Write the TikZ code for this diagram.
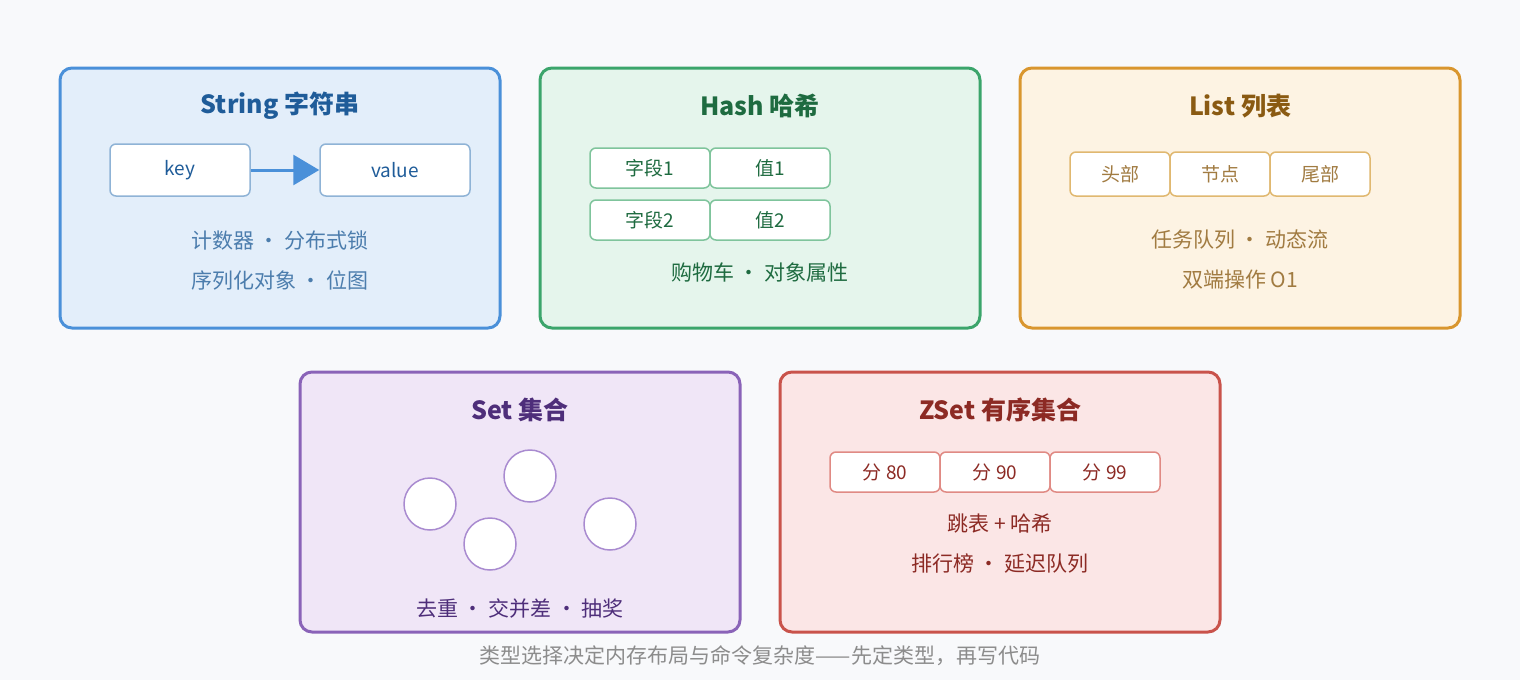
\documentclass[tikz,border=0pt]{standalone}
\usepackage{fontspec}
\setmainfont{Noto Sans CJK SC}
\usetikzlibrary{arrows.meta}
\definecolor{bgc}{HTML}{F8F9FB}
\definecolor{strB}{HTML}{4A90D9}\definecolor{strF}{HTML}{E3EEFA}\definecolor{strT}{HTML}{1F5C99}\definecolor{strS}{HTML}{8FB3D6}
\definecolor{hshB}{HTML}{3BA56B}\definecolor{hshF}{HTML}{E5F5EC}\definecolor{hshT}{HTML}{1E6B40}\definecolor{hshS}{HTML}{7FC49C}
\definecolor{lstB}{HTML}{D9962E}\definecolor{lstF}{HTML}{FDF3E3}\definecolor{lstT}{HTML}{8A5A12}\definecolor{lstS}{HTML}{E0B870}
\definecolor{setB}{HTML}{8A63B8}\definecolor{setF}{HTML}{F0E6F7}\definecolor{setT}{HTML}{4E2E7A}\definecolor{setS}{HTML}{A98BD0}
\definecolor{zsB}{HTML}{C9534B}\definecolor{zsF}{HTML}{FBE6E6}\definecolor{zsT}{HTML}{8C2A24}\definecolor{zsS}{HTML}{E08A84}
\tikzset{
  panel/.style={rounded corners=12pt, line width=3pt},
  title/.style={font=\fontsize{25}{30}\selectfont\bfseries},
  note/.style={font=\fontsize{21}{26}\selectfont},
  cell/.style={draw, fill=white, rounded corners=6pt, line width=1.5pt, font=\fontsize{19}{22}\selectfont, inner sep=0pt},
  dot/.style={circle, draw=setS, fill=white, line width=1.5pt, minimum size=52pt, inner sep=0pt}
}
\begin{document}
\begin{tikzpicture}[x=1pt,y=-1pt]
\fill[bgc] (0,0) rectangle (1520,680);
\useasboundingbox (0,0) rectangle (1520,680);

% String
\draw[panel, draw=strB, fill=strF] (60,68) rectangle (500,328);
\node[title, text=strT] (strtitle) at (280,106) {String 字符串};
\node[cell, draw=strS, text=strT, minimum width=140pt, minimum height=52pt] (key) at (180,170) {key};
\node[cell, draw=strS, text=strT, minimum width=150pt, minimum height=52pt] (value) at (395,170) {value};
\draw[strB, line width=3pt, -{Triangle[length=26pt,width=30pt]}] (key) -- (value);
\node[note, text=strT!80] (struse) at (280,240) {计数器 · 分布式锁};
\node[note, text=strT!80] (struse2) at (280,280) {序列化对象 · 位图};

% Hash
\draw[panel, draw=hshB, fill=hshF] (540,68) rectangle (980,328);
\node[title, text=hshT] (hshtitle) at (760,106) {Hash 哈希};
\foreach \i/\y in {1/168, 2/220} {
  \node[cell, draw=hshS, text=hshT, minimum width=120pt, minimum height=40pt] (field\i) at (650,\y) {字段\i};
  \node[cell, draw=hshS, text=hshT, minimum width=120pt, minimum height=40pt] (val\i) at (770,\y) {值\i};
}
\node[note, text=hshT] (hshuse) at (760,272) {购物车 · 对象属性};

% List
\draw[panel, draw=lstB, fill=lstF] (1020,68) rectangle (1460,328);
\node[title, text=lstT] (lsttitle) at (1240,106) {List 列表};
\foreach \t/\x [count=\i] in {头部/1120, 节点/1220, 尾部/1320}
  \node[cell, draw=lstS, text=lstT!80, minimum width=100pt, minimum height=44pt] (item\i) at (\x,174) {\t};
\node[note, text=lstT!80] (lstuse) at (1240,240) {任务队列 · 动态流};
\node[note, text=lstT!80] (lstuse2) at (1240,280) {双端操作 O1};

% Set
\draw[panel, draw=setB, fill=setF] (300,372) rectangle (740,632);
\node[title, text=setT] (settitle) at (520,410) {Set 集合};
\foreach \x/\y [count=\i] in {430/504, 530/476, 490/544, 610/524}
  \node[dot] (member\i) at (\x,\y) {};
\node[note, text=setT] (setuse) at (520,608) {去重 · 交并差 · 抽奖};

% ZSet
\draw[panel, draw=zsB, fill=zsF] (780,372) rectangle (1220,632);
\node[title, text=zsT] (zstitle) at (1000,410) {ZSet 有序集合};
\foreach \s/\x [count=\i] in {80/885, 90/995, 99/1105}
  \node[cell, draw=zsS, text=zsT, minimum width=110pt, minimum height=40pt] (score\i) at (\x,472) {分 \s};
\node[note, text=zsT] (zsuse) at (1000,524) {跳表 + 哈希};
\node[note, text=zsT] (zsuse2) at (1000,564) {排行榜 · 延迟队列};

\node[note, text=gray!90] (caption) at (760,656) {类型选择决定内存布局与命令复杂度——先定类型，再写代码};
\end{tikzpicture}
\end{document}
